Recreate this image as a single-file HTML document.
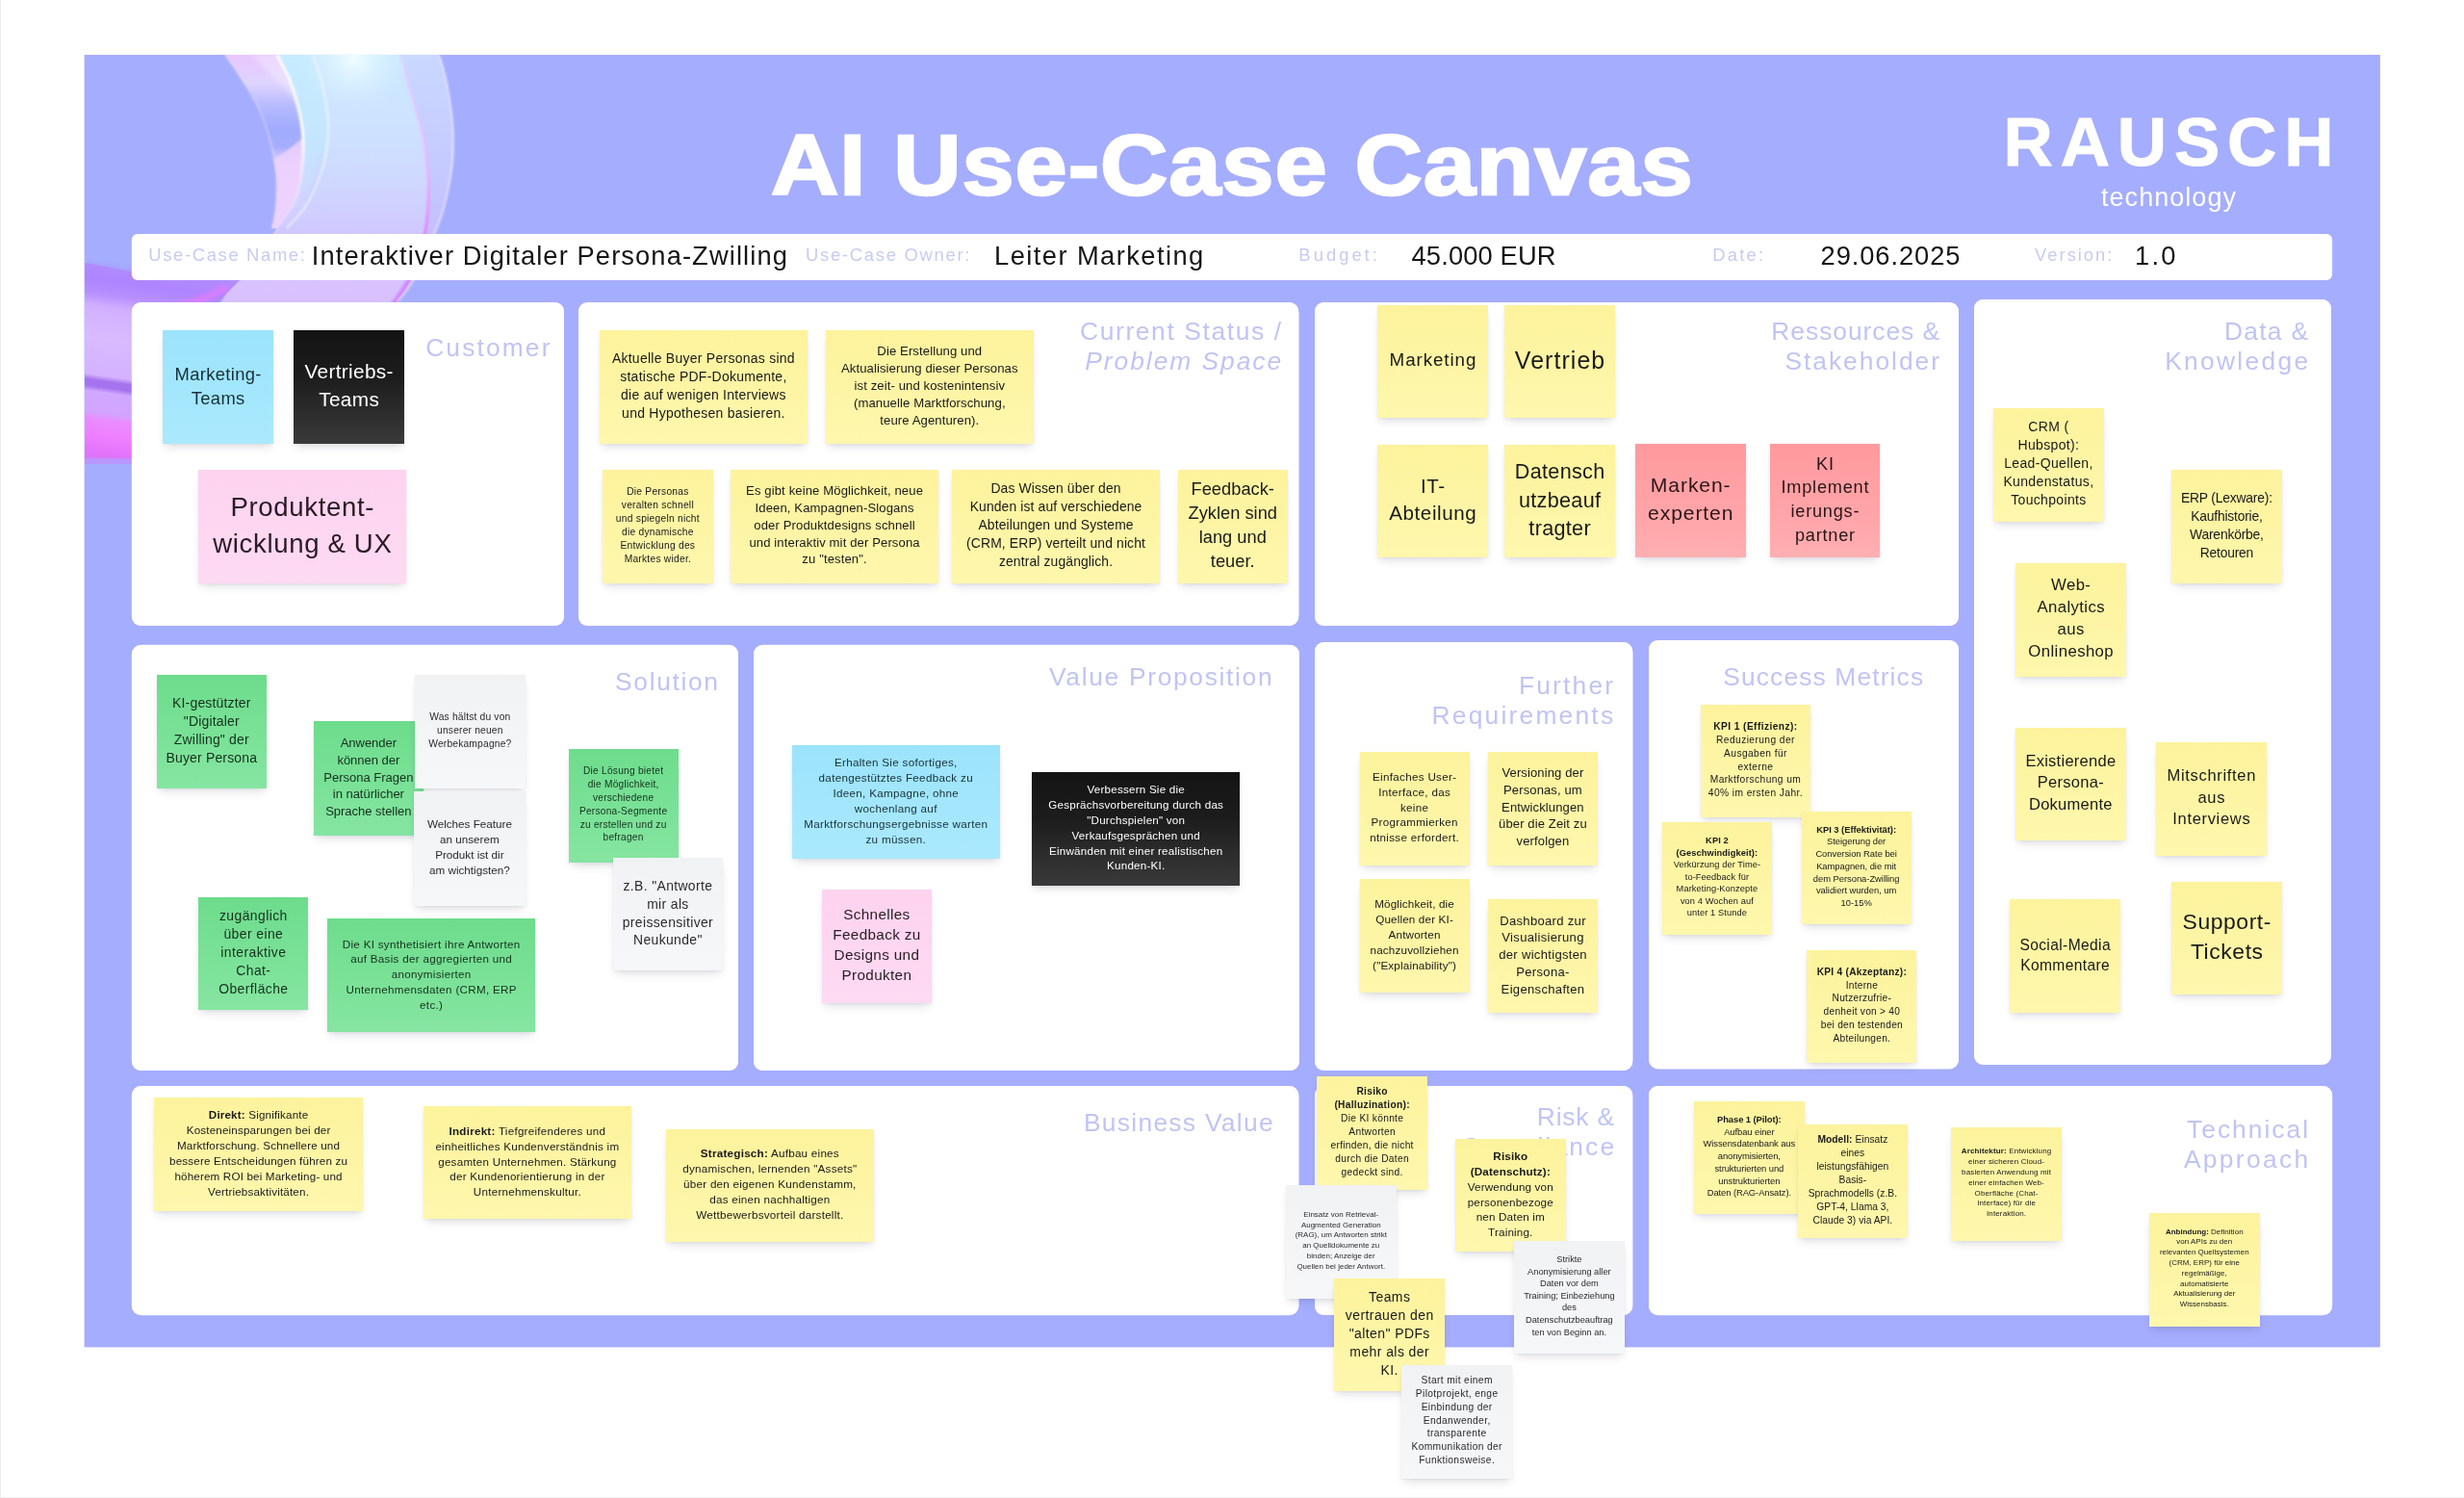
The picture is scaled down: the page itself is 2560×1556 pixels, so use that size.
<!DOCTYPE html>
<html><head><meta charset="utf-8"><title>AI Use-Case Canvas</title>
<style>
html,body{margin:0;padding:0;background:#fff}
body{width:2560px;height:1556px;position:relative;overflow:hidden;font-family:"Liberation Sans", sans-serif;}
.abs{position:absolute}
.panel{position:absolute;background:#fff;border-radius:9px}
.st{position:absolute;display:flex;align-items:center;justify-content:center;text-align:center;white-space:nowrap;box-shadow:0 6px 9px -3px rgba(40,40,70,.15),0 1px 3px rgba(40,40,70,.06);}
.st b{font-weight:700}
.lbl{position:absolute;white-space:nowrap;color:#c0c4f3;}
.lbl i{font-style:italic}
.il{position:absolute;white-space:nowrap;color:#c3c6ee}
.iv{position:absolute;white-space:nowrap;color:#141414}
</style></head><body>
<div style="position:absolute;left:0;top:0;width:2560px;height:1556px;will-change:transform">
<div class="abs" style="left:0;top:0;width:1px;height:1556px;background:#ececec"></div>
<div class="abs" style="left:0;top:1555px;width:2560px;height:1px;background:#f1f1f1"></div>
<svg class="abs" style="left:0;top:0" width="2560" height="1556" viewBox="0 0 2560 1556"><rect x="87.6" y="56.9" width="2385.3" height="1342.5" fill="#a5adfe"/></svg>

<svg class="abs" style="left:88px;top:57px" width="460" height="440" viewBox="88 57 460 440">
<defs>
<clipPath id="fc"><rect x="88" y="57" width="460" height="440"/></clipPath>
<linearGradient id="gMain" x1="0" y1="57" x2="0" y2="340" gradientUnits="userSpaceOnUse">
 <stop offset="0" stop-color="#cbe9ff"/><stop offset=".25" stop-color="#cde3ff"/><stop offset=".45" stop-color="#cfd9ff"/><stop offset=".64" stop-color="#d0c9ff"/><stop offset=".85" stop-color="#d9c2ff"/><stop offset="1" stop-color="#d6bcff"/>
</linearGradient>
<linearGradient id="gBand" x1="0" y1="57" x2="0" y2="240" gradientUnits="userSpaceOnUse">
 <stop offset="0" stop-color="#e9c6ff"/><stop offset=".16" stop-color="#dfd4ff"/><stop offset=".30" stop-color="#b4b8ff"/><stop offset=".42" stop-color="#a0acfd"/><stop offset=".52" stop-color="#a6adff"/><stop offset=".62" stop-color="#e6cfff"/><stop offset="1" stop-color="#efd3ff"/>
</linearGradient>
<linearGradient id="gStrip" x1="0" y1="57" x2="0" y2="320" gradientUnits="userSpaceOnUse">
 <stop offset="0" stop-color="#c9d6ff"/><stop offset=".5" stop-color="#c3c6ff"/><stop offset="1" stop-color="#c6b0ff"/>
</linearGradient>
<linearGradient id="gMag" x1="0" y1="57" x2="0" y2="320" gradientUnits="userSpaceOnUse">
 <stop offset="0" stop-color="#f0d0ff" stop-opacity=".5"/><stop offset=".45" stop-color="#f0b0ff" stop-opacity=".9"/><stop offset=".75" stop-color="#e070ff"/><stop offset="1" stop-color="#e070ff"/>
</linearGradient>
<linearGradient id="gBlob" x1="128" y1="268" x2="98" y2="480" gradientUnits="userSpaceOnUse">
 <stop offset="0" stop-color="#b690ff"/><stop offset=".12" stop-color="#ae84ff"/><stop offset=".19" stop-color="#b890ff"/><stop offset=".25" stop-color="#d2b0ff"/><stop offset=".40" stop-color="#d9baff"/><stop offset=".58" stop-color="#d4b2ff"/><stop offset=".605" stop-color="#a673ee"/><stop offset=".635" stop-color="#a673ee"/><stop offset=".66" stop-color="#cfa8ff"/><stop offset=".76" stop-color="#d3a4ff"/><stop offset=".79" stop-color="#ea8cff"/><stop offset=".87" stop-color="#ee80ff"/><stop offset=".96" stop-color="#e172fa"/><stop offset="1" stop-color="#d77af8"/>
</linearGradient>
<linearGradient id="gRib" x1="0" y1="57" x2="0" y2="240" gradientUnits="userSpaceOnUse">
 <stop offset="0" stop-color="#c6ecff" stop-opacity=".9"/><stop offset=".55" stop-color="#c3e6ff" stop-opacity=".8"/><stop offset=".8" stop-color="#cfd8ff" stop-opacity=".55"/><stop offset="1" stop-color="#dccfff" stop-opacity=".3"/>
</linearGradient>
<linearGradient id="gWl" x1="0" y1="57" x2="0" y2="240" gradientUnits="userSpaceOnUse">
 <stop offset="0" stop-color="#ffffff" stop-opacity=".95"/><stop offset=".5" stop-color="#ffffff" stop-opacity=".95"/><stop offset=".7" stop-color="#f4ecff" stop-opacity=".7"/><stop offset="1" stop-color="#e6d6ff" stop-opacity=".5"/>
</linearGradient>
<radialGradient id="gHi" cx="368" cy="60" r="60" gradientUnits="userSpaceOnUse">
 <stop offset="0" stop-color="#f4ffff" stop-opacity=".95"/><stop offset=".4" stop-color="#e6faff" stop-opacity=".5"/><stop offset="1" stop-color="#d0ecff" stop-opacity="0"/>
</radialGradient>
<filter id="b1" x="-10%" y="-10%" width="120%" height="120%"><feGaussianBlur stdDeviation="1.2"/></filter>
<filter id="b2" x="-10%" y="-10%" width="120%" height="120%"><feGaussianBlur stdDeviation="2.5"/></filter>
<filter id="b4" x="-20%" y="-20%" width="140%" height="140%"><feGaussianBlur stdDeviation="5"/></filter>
</defs>
<g clip-path="url(#fc)">
 <!-- main glass body -->
 <path d="M287.5 57 L456 57 C462 72 467 97 470 125 C472 146 471 168 467.5 187.5 C464 207 459 225 453.75 237 C447 255 438 275 429.5 291 C424 300 418 308 413 313 L395 340 L215 340 L238 300 C255 280 272 258 287.5 237 C298 224 304 214 307.5 206 C311 196 313 185 313.75 175 C315 165 315.5 154 315 143.75 C314 133 312.5 122 310 112.5 C307.5 102 304 91 300 81 Z" fill="url(#gMain)"/>
 <!-- cyan-ish inner ribbon between the two white lines -->
 <path d="M287.5 57 L325 57 C331 72 335 87 337.5 100 C340 113 341.5 125 341 137.5 C340.5 150 339 163 335 175 C331 188 326 200 318.75 212.5 C312 222 305 230 297.5 237 L287.5 237 C298 224 304 214 307.5 206 C311 196 313 185 313.75 175 C315 165 315.5 154 315 143.75 C314 133 312.5 122 310 112.5 C307.5 102 304 91 300 81 Z" fill="url(#gRib)" filter="url(#b1)"/>
 <!-- right strip -->
 <path d="M415 57 L456 57 C462 72 467 97 470 125 C472 146 471 168 467.5 187.5 C464 207 459 225 453.75 237 C447 255 438 275 429.5 291 C424 300 418 308 413 313 L400 320 C418 300 432 272 442.5 237 C445 220 445.5 204 445 187.5 C444 175 443 162 441.25 150 C439 137 435 124 431.25 112.5 C426 95 421 76 415 57 Z" fill="url(#gStrip)" opacity=".9"/>
 <!-- left band -->
 <path d="M233.75 57 L287.5 57 C292 65 296 73 300 81 C304 91 307.5 102 310 112.5 C312.5 122 314 133 315 143.75 C315.5 154 315 165 313.75 175 C313 185 311 196 307.5 206 C304 214 298 224 287.5 237 L282.5 237 C284 231 285.5 225 286.25 218.75 C287.5 208 288 198 287.5 187.5 C286.5 175 284.5 162 281.25 150 C278 137 274 124 268.75 112.5 C263.5 101.5 257 91 250 81 C245 73 239.5 65 233.75 57 Z" fill="url(#gBand)"/>
 <path d="M284 165 C294 160 304 152 315 143 C315.5 154 315 165 313.75 175 C313 185 311 196 307.5 206 C304 214 298 224 287.5 237 L282.5 237 C284 231 285.5 225 286.25 218.75 C287.5 208 288 198 287.5 187.5 C287 180 286 172 284 165 Z" fill="#eed2ff" opacity=".85" filter="url(#b1)"/>
 <!-- soft pale highlight inside band top -->
 <path d="M262 57 L287.5 57 C296 73 304 91 308 106 C300 96 290 84 280 76 Z" fill="#f3eaff" opacity=".55" filter="url(#b2)"/>
 <!-- top glow -->
 <rect x="300" y="57" width="140" height="70" fill="url(#gHi)"/>
 <!-- white inner line -->
 <path d="M287.5 57 C292 65 296 73 300 81 C304 91 307.5 102 310 112.5 C312.5 122 314 133 315 143.75 C315.5 154 315 165 313.75 175 C313 185 311 196 307.5 206 C304 214 298 224 287.5 237" fill="none" stroke="url(#gWl)" stroke-width="3" filter="url(#b1)"/>
 <!-- second faint line -->
 <path d="M325 57 C331 72 335 87 337.5 100 C340 113 341.5 125 341 137.5 C340.5 150 339 163 335 175 C331 188 326 200 318.75 212.5 C312 222 305 230 297.5 237" fill="none" stroke="#eef4ff" stroke-width="2.4" opacity=".8" filter="url(#b1)"/>
 <path d="M333 160 C333 172 331 184 325 197 C319 210 308 225 292 240" fill="none" stroke="#c3b2ff" stroke-width="1.4" opacity=".45" filter="url(#b2)"/>
 <!-- magenta line -->
 <path d="M415 57 C421 76 426 95 431.25 112.5 C435 124 439 137 441.25 150 C443 162 444 175 445 187.5 C445.5 204 445 220 442.5 237 C438 255 432 275 425 291 C420 300 415 308 408 316" fill="none" stroke="url(#gMag)" stroke-width="2.6" filter="url(#b1)"/>
 <!-- outer right edge highlight -->
 <path d="M456 57 C462 72 467 97 470 125 C472 146 471 168 467.5 187.5 C464 207 459 225 453.75 237 C447 255 438 275 429.5 291 C424 300 418 308 413 313" fill="none" stroke="#e4e0ff" stroke-width="2" opacity=".85" filter="url(#b1)"/>
 <!-- left edge faint highlight -->
 <path d="M233.75 57 C245 73 257 91 268.75 112.5 C278 132 286 160 287.5 187.5 C288 205 286 225 282.5 237" fill="none" stroke="#d6d2ff" stroke-width="1.6" opacity=".8" filter="url(#b1)"/>
 <!-- lower-left purple blob -->
 <path d="M88 273 C105 276 122 279.5 140 282.5 C158 285 175 287 192 288.5 C212 290 232 290.5 250 290 L236 304 L222 320 L205 345 L137 345 L137 482 L88 482 Z" fill="url(#gBlob)"/>
 <!-- magenta edge of the blob along the strip -->
 <path d="M168 322 C192 318 216 310 236 298" fill="none" stroke="#e67cff" stroke-width="7" opacity=".8" filter="url(#b2)"/>
 <path d="M88 273 C105 276 122 279.5 140 282.5 C158 285 175 287 192 288.5 C212 290 232 290.5 250 290" fill="none" stroke="#a98aff" stroke-width="3" opacity=".6" filter="url(#b2)"/>
 <!-- soft fade at bottom of blob -->
 <rect x="88" y="476" width="49" height="8" fill="#a5adfe" opacity=".6" filter="url(#b1)"/>
</g>
</svg>
<svg class="abs" style="left:0;top:0" width="2560" height="1556" viewBox="0 0 2560 1556"><rect x="136.8" y="243" width="2286.2999999999997" height="47.89999999999998" rx="6" fill="#fff"/><rect x="136.8" y="314.4" width="448.99999999999994" height="335.4" rx="10" fill="#fff"/><rect x="601.1" y="314.4" width="748.4" height="335.4" rx="10" fill="#fff"/><rect x="1366.1" y="314.4" width="668.9000000000001" height="335.4" rx="10" fill="#fff"/><rect x="2051" y="311" width="370.5" height="794.5" rx="10" fill="#fff"/><rect x="136.8" y="669.8" width="630.0" height="442.10000000000014" rx="10" fill="#fff"/><rect x="783" y="669.8" width="566.5" height="442.10000000000014" rx="10" fill="#fff"/><rect x="1366.1" y="667" width="330.4000000000001" height="444.9000000000001" rx="10" fill="#fff"/><rect x="1713.2" y="665.2" width="321.79999999999995" height="445.29999999999995" rx="10" fill="#fff"/><rect x="136.8" y="1128" width="1212.7" height="238.20000000000005" rx="10" fill="#fff"/><rect x="1366.2" y="1128" width="330.20000000000005" height="238" rx="10" fill="#fff"/><rect x="1713.2" y="1128" width="709.9999999999998" height="238.20000000000005" rx="10" fill="#fff"/></svg>
<div class="abs" style="left:800.70px;top:128.08px;font-size:88.5px;font-weight:700;line-height:1;white-space:nowrap;color:#ffffff;letter-spacing:0.860px;transform:scaleX(1.1);transform-origin:0 0;-webkit-text-stroke:2.4px #ffffff;paint-order:stroke fill;">AI Use-Case Canvas</div>
<div class="abs" style="left:2081.50px;top:112.40px;font-size:71.0px;font-weight:700;line-height:1;white-space:nowrap;color:#ffffff;letter-spacing:7.853px;-webkit-text-stroke:1px #ffffff;paint-order:stroke fill;">RAUSCH</div>
<div class="abs" style="left:2183.00px;top:192.14px;font-size:27px;font-weight:400;line-height:1;white-space:nowrap;color:#ffffff;letter-spacing:1.043px;">technology</div>
<div class="abs" style="left:154.32px;top:256.42px;font-size:18.4px;font-weight:400;line-height:1;white-space:nowrap;color:#c8cbf1;letter-spacing:1.655px;">Use-Case Name:</div>
<div class="abs" style="left:837.12px;top:256.42px;font-size:18.4px;font-weight:400;line-height:1;white-space:nowrap;color:#c8cbf1;letter-spacing:1.722px;">Use-Case Owner:</div>
<div class="abs" style="left:1349.37px;top:256.42px;font-size:18.4px;font-weight:400;line-height:1;white-space:nowrap;color:#c8cbf1;letter-spacing:3.017px;">Budget:</div>
<div class="abs" style="left:1779.37px;top:256.42px;font-size:18.4px;font-weight:400;line-height:1;white-space:nowrap;color:#c8cbf1;letter-spacing:2.198px;">Date:</div>
<div class="abs" style="left:2114.12px;top:256.42px;font-size:18.4px;font-weight:400;line-height:1;white-space:nowrap;color:#c8cbf1;letter-spacing:1.972px;">Version:</div>
<div class="abs" style="left:323.84px;top:251.89px;font-size:27.3px;font-weight:400;line-height:1;white-space:nowrap;color:#151515;letter-spacing:1.104px;">Interaktiver Digitaler Persona-Zwilling</div>
<div class="abs" style="left:1033.04px;top:251.89px;font-size:27.3px;font-weight:400;line-height:1;white-space:nowrap;color:#151515;letter-spacing:1.433px;">Leiter Marketing</div>
<div class="abs" style="left:1466.54px;top:251.89px;font-size:27.3px;font-weight:400;line-height:1;white-space:nowrap;color:#151515;letter-spacing:0.133px;">45.000 EUR</div>
<div class="abs" style="left:1891.54px;top:251.89px;font-size:27.3px;font-weight:400;line-height:1;white-space:nowrap;color:#151515;letter-spacing:0.921px;">29.06.2025</div>
<div class="abs" style="left:2218.04px;top:251.89px;font-size:27.3px;font-weight:400;line-height:1;white-space:nowrap;color:#151515;letter-spacing:2.230px;">1.0</div>
<div class="panel" style="left:136.8px;top:314.4px;width:448.99999999999994px;height:335.4px"></div>
<div class="panel" style="left:601.1px;top:314.4px;width:748.4px;height:335.4px"></div>
<div class="panel" style="left:1366.1px;top:314.4px;width:668.9000000000001px;height:335.4px"></div>
<div class="panel" style="left:2051px;top:311px;width:370.5px;height:794.5px"></div>
<div class="panel" style="left:136.8px;top:669.8px;width:630.0px;height:442.10000000000014px"></div>
<div class="panel" style="left:783px;top:669.8px;width:566.5px;height:442.10000000000014px"></div>
<div class="panel" style="left:1366.1px;top:667px;width:330.4000000000001px;height:444.9000000000001px"></div>
<div class="panel" style="left:1713.2px;top:665.2px;width:321.79999999999995px;height:445.29999999999995px"></div>
<div class="panel" style="left:136.8px;top:1128px;width:1212.7px;height:238.20000000000005px"></div>
<div class="panel" style="left:1366.2px;top:1128px;width:330.20000000000005px;height:238px"></div>
<div class="panel" style="left:1713.2px;top:1128px;width:709.9999999999998px;height:238.20000000000005px"></div>
<div class="lbl" style="left:442.13px;top:348.46px;font-size:26.40px;line-height:1;letter-spacing:2.134px">Customer</div>
<div class="lbl" style="left:1122.02px;top:331.46px;font-size:26.40px;line-height:1;letter-spacing:1.619px">Current Status /</div>
<div class="lbl" style="left:1127.34px;top:362.46px;font-size:26.40px;line-height:1;letter-spacing:1.944px"><i>Problem Space</i></div>
<div class="lbl" style="left:1840.35px;top:331.46px;font-size:26.40px;line-height:1;letter-spacing:0.951px">Ressources &amp;</div>
<div class="lbl" style="left:1854.38px;top:362.46px;font-size:26.40px;line-height:1;letter-spacing:1.985px">Stakeholder</div>
<div class="lbl" style="left:2310.98px;top:331.46px;font-size:26.40px;line-height:1;letter-spacing:1.277px">Data &amp;</div>
<div class="lbl" style="left:2249.19px;top:362.46px;font-size:26.40px;line-height:1;letter-spacing:2.287px">Knowledge</div>
<div class="lbl" style="left:639.06px;top:694.96px;font-size:26.40px;line-height:1;letter-spacing:1.659px">Solution</div>
<div class="lbl" style="left:1090.07px;top:690.46px;font-size:26.40px;line-height:1;letter-spacing:1.666px">Value Proposition</div>
<div class="lbl" style="left:1577.88px;top:699.21px;font-size:26.40px;line-height:1;letter-spacing:2.183px">Further</div>
<div class="lbl" style="left:1487.60px;top:730.21px;font-size:26.40px;line-height:1;letter-spacing:2.201px">Requirements</div>
<div class="lbl" style="left:1790.23px;top:690.46px;font-size:26.40px;line-height:1;letter-spacing:1.127px">Success Metrics</div>
<div class="lbl" style="left:1125.94px;top:1152.71px;font-size:26.40px;line-height:1;letter-spacing:1.285px">Business Value</div>
<div class="lbl" style="left:1596.80px;top:1146.96px;font-size:26.40px;line-height:1;letter-spacing:0.799px">Risk &amp;</div>
<div class="lbl" style="left:1518.53px;top:1177.96px;font-size:26.40px;line-height:1;letter-spacing:2.132px">Compliance</div>
<div class="lbl" style="left:2272.00px;top:1159.96px;font-size:26.40px;line-height:1;letter-spacing:2.003px">Technical</div>
<div class="lbl" style="left:2268.91px;top:1190.86px;font-size:26.40px;line-height:1;letter-spacing:2.312px">Approach</div>
<div class="st" style="left:169.00px;top:343.00px;width:115.00px;height:117.50px;background:linear-gradient(180deg,#9be3fc 0%,#a4e7fc 60%,#abe9fd 100%);color:#17303a;font-size:18.38px;line-height:25.00px;letter-spacing:0.350px"><div style="margin-right:-0.350px;transform:translateY(-1.1px)">Marketing-<br>Teams</div></div>
<div class="st" style="left:305.00px;top:343.00px;width:115.00px;height:117.50px;background:linear-gradient(180deg,#141414 0%,#1c1c1c 40%,#3a3a3a 100%);color:#ffffff;font-size:20.81px;line-height:28.30px;letter-spacing:0.330px"><div style="margin-right:-0.330px;transform:translateY(-1.1px)">Vertriebs-<br>Teams</div></div>
<div class="st" style="left:206.00px;top:488.00px;width:216.00px;height:117.50px;background:linear-gradient(180deg,#fdd3ef 0%,#fed7f1 60%,#fedaf3 100%);color:#2a1a26;font-size:27.57px;line-height:37.50px;letter-spacing:0.657px"><div style="margin-right:-0.657px;transform:translateY(-1.1px)">Produktent-<br>wicklung &amp; UX</div></div>
<div class="st" style="left:623.00px;top:343.00px;width:215.50px;height:117.50px;background:linear-gradient(180deg,#fdf39d 0%,#fdf5a5 55%,#fef7ad 100%);color:#1a1a1a;font-size:13.97px;line-height:19.00px;letter-spacing:0.269px"><div style="margin-right:-0.269px;transform:translateY(-1.1px)">Aktuelle Buyer Personas sind<br>statische PDF-Dokumente,<br>die auf wenigen Interviews<br>und Hypothesen basieren.</div></div>
<div class="st" style="left:858.00px;top:343.00px;width:215.50px;height:117.50px;background:linear-gradient(180deg,#fdf39d 0%,#fdf5a5 55%,#fef7ad 100%);color:#1a1a1a;font-size:13.16px;line-height:17.90px;letter-spacing:0.079px"><div style="margin-right:-0.079px;transform:translateY(-1.1px)">Die Erstellung und<br>Aktualisierung dieser Personas<br>ist zeit- und kostenintensiv<br>(manuelle Marktforschung,<br>teure Agenturen).</div></div>
<div class="st" style="left:626.00px;top:488.00px;width:114.50px;height:117.50px;background:linear-gradient(180deg,#fdf39d 0%,#fdf5a5 55%,#fef7ad 100%);color:#1a1a1a;font-size:10.26px;line-height:13.95px;letter-spacing:0.242px"><div style="margin-right:-0.242px;transform:translateY(-1.1px)">Die Personas<br>veralten schnell<br>und spiegeln nicht<br>die dynamische<br>Entwicklung des<br>Marktes wider.</div></div>
<div class="st" style="left:759.00px;top:488.00px;width:216.00px;height:117.50px;background:linear-gradient(180deg,#fdf39d 0%,#fdf5a5 55%,#fef7ad 100%);color:#1a1a1a;font-size:13.09px;line-height:17.80px;letter-spacing:0.119px"><div style="margin-right:-0.119px;transform:translateY(-1.1px)">Es gibt keine Möglichkeit, neue<br>Ideen, Kampagnen-Slogans<br>oder Produktdesigns schnell<br>und interaktiv mit der Persona<br>zu "testen".</div></div>
<div class="st" style="left:989.00px;top:488.00px;width:216.00px;height:117.50px;background:linear-gradient(180deg,#fdf39d 0%,#fdf5a5 55%,#fef7ad 100%);color:#1a1a1a;font-size:13.90px;line-height:18.90px;letter-spacing:0.130px"><div style="margin-right:-0.130px;transform:translateY(-1.1px)">Das Wissen über den<br>Kunden ist auf verschiedene<br>Abteilungen und Systeme<br>(CRM, ERP) verteilt und nicht<br>zentral zugänglich.</div></div>
<div class="st" style="left:1223.50px;top:488.00px;width:114.50px;height:117.50px;background:linear-gradient(180deg,#fdf39d 0%,#fdf5a5 55%,#fef7ad 100%);color:#1a1a1a;font-size:18.24px;line-height:24.80px;letter-spacing:0.031px"><div style="margin-right:-0.031px;transform:translateY(-1.1px)">Feedback-<br>Zyklen sind<br>lang und<br>teuer.</div></div>
<div class="st" style="left:1431.00px;top:316.50px;width:115.00px;height:117.50px;background:linear-gradient(180deg,#fdf39d 0%,#fdf5a5 55%,#fef7ad 100%);color:#1a1a1a;font-size:18.80px;line-height:26.00px;letter-spacing:0.915px"><div style="margin-right:-0.915px;transform:translateY(-1.1px)">Marketing</div></div>
<div class="st" style="left:1563.00px;top:316.50px;width:115.00px;height:117.50px;background:linear-gradient(180deg,#fdf39d 0%,#fdf5a5 55%,#fef7ad 100%);color:#1a1a1a;font-size:24.90px;line-height:34.00px;letter-spacing:1.077px"><div style="margin-right:-1.077px;transform:translateY(-1.1px)">Vertrieb</div></div>
<div class="st" style="left:1431.00px;top:461.50px;width:115.00px;height:117.50px;background:linear-gradient(180deg,#fdf39d 0%,#fdf5a5 55%,#fef7ad 100%);color:#1a1a1a;font-size:20.59px;line-height:28.00px;letter-spacing:0.604px"><div style="margin-right:-0.604px;transform:translateY(-1.1px)">IT-<br>Abteilung</div></div>
<div class="st" style="left:1563.00px;top:461.50px;width:115.00px;height:117.50px;background:linear-gradient(180deg,#fdf39d 0%,#fdf5a5 55%,#fef7ad 100%);color:#1a1a1a;font-size:21.62px;line-height:29.40px;letter-spacing:0.307px"><div style="margin-right:-0.307px;transform:translateY(-1.1px)">Datensch<br>utzbeauf<br>tragter</div></div>
<div class="st" style="left:1699.00px;top:461.00px;width:114.50px;height:118.00px;background:linear-gradient(180deg,#ff9a9e 0%,#ffa4a8 60%,#ffafb2 100%);color:#2a1516;font-size:21.14px;line-height:28.75px;letter-spacing:0.879px"><div style="margin-right:-0.879px;transform:translateY(-1.1px)">Marken-<br>experten</div></div>
<div class="st" style="left:1839.00px;top:461.00px;width:114.00px;height:118.00px;background:linear-gradient(180deg,#ff9a9e 0%,#ffa4a8 60%,#ffafb2 100%);color:#2a1516;font-size:18.16px;line-height:24.70px;letter-spacing:0.776px"><div style="margin-right:-0.776px;transform:translateY(-1.1px)">KI<br>Implement<br>ierungs-<br>partner</div></div>
<div class="st" style="left:2071.00px;top:424.00px;width:114.50px;height:117.50px;background:linear-gradient(180deg,#fdf39d 0%,#fdf5a5 55%,#fef7ad 100%);color:#1a1a1a;font-size:14.01px;line-height:19.06px;letter-spacing:0.345px"><div style="margin-right:-0.345px;transform:translateY(-1.1px)">CRM (<br>Hubspot):<br>Lead-Quellen,<br>Kundenstatus,<br>Touchpoints</div></div>
<div class="st" style="left:2256.00px;top:488.00px;width:115.00px;height:117.50px;background:linear-gradient(180deg,#fdf39d 0%,#fdf5a5 55%,#fef7ad 100%);color:#1a1a1a;font-size:13.90px;line-height:18.90px;letter-spacing:-0.210px"><div style="margin-right:0.210px;transform:translateY(-1.1px)">ERP (Lexware):<br>Kaufhistorie,<br>Warenkörbe,<br>Retouren</div></div>
<div class="st" style="left:2094.00px;top:585.00px;width:115.00px;height:117.50px;background:linear-gradient(180deg,#fdf39d 0%,#fdf5a5 55%,#fef7ad 100%);color:#1a1a1a;font-size:16.76px;line-height:22.80px;letter-spacing:0.400px"><div style="margin-right:-0.400px;transform:translateY(-1.1px)">Web-<br>Analytics<br>aus<br>Onlineshop</div></div>
<div class="st" style="left:2094.00px;top:756.00px;width:114.50px;height:117.00px;background:linear-gradient(180deg,#fdf39d 0%,#fdf5a5 55%,#fef7ad 100%);color:#1a1a1a;font-size:16.54px;line-height:22.50px;letter-spacing:0.251px"><div style="margin-right:-0.251px;transform:translateY(-1.1px)">Existierende<br>Persona-<br>Dokumente</div></div>
<div class="st" style="left:2240.00px;top:771.00px;width:115.00px;height:117.50px;background:linear-gradient(180deg,#fdf39d 0%,#fdf5a5 55%,#fef7ad 100%);color:#1a1a1a;font-size:16.54px;line-height:22.50px;letter-spacing:0.665px"><div style="margin-right:-0.665px;transform:translateY(-1.1px)">Mitschriften<br>aus<br>Interviews</div></div>
<div class="st" style="left:2088.00px;top:934.00px;width:115.00px;height:118.00px;background:linear-gradient(180deg,#fdf39d 0%,#fdf5a5 55%,#fef7ad 100%);color:#1a1a1a;font-size:15.62px;line-height:21.25px;letter-spacing:0.364px"><div style="margin-right:-0.364px;transform:translateY(-1.1px)">Social-Media<br>Kommentare</div></div>
<div class="st" style="left:2256.00px;top:915.50px;width:115.00px;height:117.50px;background:linear-gradient(180deg,#fdf39d 0%,#fdf5a5 55%,#fef7ad 100%);color:#1a1a1a;font-size:22.98px;line-height:31.25px;letter-spacing:0.549px"><div style="margin-right:-0.549px;transform:translateY(-1.1px)">Support-<br>Tickets</div></div>
<div class="st" style="left:162.50px;top:700.75px;width:114.50px;height:117.75px;background:linear-gradient(180deg,#6ddc8c 0%,#7be298 60%,#86e5a2 100%);color:#15301d;font-size:14.01px;line-height:19.05px;letter-spacing:0.165px"><div style="margin-right:-0.165px;transform:translateY(-1.1px)">KI-gestützter<br>"Digitaler<br>Zwilling" der<br>Buyer Persona</div></div>
<div class="st" style="left:325.75px;top:749.25px;width:114.25px;height:118.25px;background:linear-gradient(180deg,#6ddc8c 0%,#7be298 60%,#86e5a2 100%);color:#15301d;font-size:13.05px;line-height:17.75px;letter-spacing:-0.040px"><div style="margin-right:0.040px;transform:translateY(-1.1px)">Anwender<br>können der<br>Persona Fragen<br>in natürlicher<br>Sprache stellen</div></div>
<div class="st" style="left:430.75px;top:700.75px;width:115.00px;height:118.50px;background:linear-gradient(180deg,#f1f2f4 0%,#f4f5f7 60%,#f6f7f9 100%);color:#2b2b2e;font-size:10.29px;line-height:14.00px;letter-spacing:0.173px"><div style="margin-right:-0.173px;transform:translateY(-1.1px)">Was hältst du von<br>unserer neuen<br>Werbekampagne?</div></div>
<div class="st" style="left:430.00px;top:821.75px;width:115.75px;height:118.75px;background:linear-gradient(180deg,#f1f2f4 0%,#f4f5f7 60%,#f6f7f9 100%);color:#2b2b2e;font-size:11.69px;line-height:15.90px;letter-spacing:-0.009px"><div style="margin-right:0.009px;transform:translateY(-1.1px)">Welches Feature<br>an unserem<br>Produkt ist dir<br>am wichtigsten?</div></div>
<div class="st" style="left:590.50px;top:778.00px;width:114.00px;height:117.50px;background:linear-gradient(180deg,#6ddc8c 0%,#7be298 60%,#86e5a2 100%);color:#15301d;font-size:10.15px;line-height:13.80px;letter-spacing:0.258px"><div style="margin-right:-0.258px;transform:translateY(-1.1px)">Die Lösung bietet<br>die Möglichkeit,<br>verschiedene<br>Persona-Segmente<br>zu erstellen und zu<br>befragen</div></div>
<div class="st" style="left:636.50px;top:891.00px;width:114.50px;height:117.00px;background:linear-gradient(180deg,#f1f2f4 0%,#f4f5f7 60%,#f6f7f9 100%);color:#2b2b2e;font-size:13.90px;line-height:18.90px;letter-spacing:0.371px"><div style="margin-right:-0.371px;transform:translateY(-1.1px)">z.B. "Antworte<br>mir als<br>preissensitiver<br>Neukunde"</div></div>
<div class="st" style="left:206.00px;top:931.75px;width:114.25px;height:117.50px;background:linear-gradient(180deg,#6ddc8c 0%,#7be298 60%,#86e5a2 100%);color:#15301d;font-size:13.90px;line-height:18.90px;letter-spacing:0.438px"><div style="margin-right:-0.438px;transform:translateY(-1.1px)">zugänglich<br>über eine<br>interaktive<br>Chat-<br>Oberfläche</div></div>
<div class="st" style="left:340.25px;top:954.25px;width:215.50px;height:117.50px;background:linear-gradient(180deg,#6ddc8c 0%,#7be298 60%,#86e5a2 100%);color:#15301d;font-size:11.62px;line-height:15.80px;letter-spacing:0.300px"><div style="margin-right:-0.300px;transform:translateY(-1.1px)">Die KI synthetisiert ihre Antworten<br>auf Basis der aggregierten und<br>anonymisierten<br>Unternehmensdaten (CRM, ERP<br>etc.)</div></div>
<div class="st" style="left:822.75px;top:774.25px;width:215.75px;height:117.50px;background:linear-gradient(180deg,#9be3fc 0%,#a4e7fc 60%,#abe9fd 100%);color:#17303a;font-size:11.65px;line-height:15.85px;letter-spacing:0.307px"><div style="margin-right:-0.307px;transform:translateY(-1.1px)">Erhalten Sie sofortiges,<br>datengestütztes Feedback zu<br>Ideen, Kampagne, ohne<br>wochenlang auf<br>Marktforschungsergebnisse warten<br>zu müssen.</div></div>
<div class="st" style="left:1072.25px;top:801.75px;width:215.75px;height:118.00px;background:linear-gradient(180deg,#141414 0%,#1c1c1c 40%,#3a3a3a 100%);color:#ffffff;font-size:11.62px;line-height:15.80px;letter-spacing:0.223px"><div style="margin-right:-0.223px;transform:translateY(-1.1px)">Verbessern Sie die<br>Gesprächsvorbereitung durch das<br>"Durchspielen" von<br>Verkaufsgesprächen und<br>Einwänden mit einer realistischen<br>Kunden-KI.</div></div>
<div class="st" style="left:853.50px;top:924.25px;width:114.50px;height:117.50px;background:linear-gradient(180deg,#fdd3ef 0%,#fed7f1 60%,#fedaf3 100%);color:#2a1a26;font-size:15.29px;line-height:20.80px;letter-spacing:0.345px"><div style="margin-right:-0.345px;transform:translateY(-1.1px)">Schnelles<br>Feedback zu<br>Designs und<br>Produkten</div></div>
<div class="st" style="left:1412.50px;top:780.50px;width:114.00px;height:118.00px;background:linear-gradient(180deg,#fdf39d 0%,#fdf5a5 55%,#fef7ad 100%);color:#1a1a1a;font-size:11.62px;line-height:15.80px;letter-spacing:0.326px"><div style="margin-right:-0.326px;transform:translateY(-1.1px)">Einfaches User-<br>Interface, das<br>keine<br>Programmierken<br>ntnisse erfordert.</div></div>
<div class="st" style="left:1545.75px;top:780.50px;width:114.25px;height:118.00px;background:linear-gradient(180deg,#fdf39d 0%,#fdf5a5 55%,#fef7ad 100%);color:#1a1a1a;font-size:13.05px;line-height:17.75px;letter-spacing:0.113px"><div style="margin-right:-0.113px;transform:translateY(-1.1px)">Versioning der<br>Personas, um<br>Entwicklungen<br>über die Zeit zu<br>verfolgen</div></div>
<div class="st" style="left:1412.50px;top:913.00px;width:114.00px;height:117.50px;background:linear-gradient(180deg,#fdf39d 0%,#fdf5a5 55%,#fef7ad 100%);color:#1a1a1a;font-size:11.69px;line-height:15.90px;letter-spacing:0.146px"><div style="margin-right:-0.146px;transform:translateY(-1.1px)">Möglichkeit, die<br>Quellen der KI-<br>Antworten<br>nachzuvollziehen<br>("Explainability")</div></div>
<div class="st" style="left:1545.75px;top:934.25px;width:114.25px;height:117.50px;background:linear-gradient(180deg,#fdf39d 0%,#fdf5a5 55%,#fef7ad 100%);color:#1a1a1a;font-size:13.09px;line-height:17.80px;letter-spacing:0.301px"><div style="margin-right:-0.301px;transform:translateY(-1.1px)">Dashboard zur<br>Visualisierung<br>der wichtigsten<br>Persona-<br>Eigenschaften</div></div>
<div class="st" style="left:1766.50px;top:731.75px;width:114.50px;height:117.50px;background:linear-gradient(180deg,#fdf39d 0%,#fdf5a5 55%,#fef7ad 100%);color:#1a1a1a;font-size:10.22px;line-height:13.90px;letter-spacing:0.414px"><div style="margin-right:-0.414px;transform:translateY(-1.1px)"><b>KPI 1 (Effizienz):</b><br>Reduzierung der<br>Ausgaben für<br>externe<br>Marktforschung um<br>40% im ersten Jahr.</div></div>
<div class="st" style="left:1727.00px;top:853.50px;width:113.75px;height:117.00px;background:linear-gradient(180deg,#fdf39d 0%,#fdf5a5 55%,#fef7ad 100%);color:#1a1a1a;font-size:9.26px;line-height:12.60px;letter-spacing:0.103px"><div style="margin-right:-0.103px;transform:translateY(-1.1px)"><b>KPI 2</b><br><b>(Geschwindigkeit):</b><br>Verkürzung der Time-<br>to-Feedback für<br>Marketing-Konzepte<br>von 4 Wochen auf<br>unter 1 Stunde</div></div>
<div class="st" style="left:1871.75px;top:842.50px;width:113.75px;height:117.50px;background:linear-gradient(180deg,#fdf39d 0%,#fdf5a5 55%,#fef7ad 100%);color:#1a1a1a;font-size:9.38px;line-height:12.75px;letter-spacing:-0.025px"><div style="margin-right:0.025px;transform:translateY(-1.1px)"><b>KPI 3 (Effektivität):</b><br>Steigerung der<br>Conversion Rate bei<br>Kampagnen, die mit<br>dem Persona-Zwilling<br>validiert wurden, um<br>10-15%</div></div>
<div class="st" style="left:1877.25px;top:986.75px;width:114.00px;height:117.00px;background:linear-gradient(180deg,#fdf39d 0%,#fdf5a5 55%,#fef7ad 100%);color:#1a1a1a;font-size:10.18px;line-height:13.85px;letter-spacing:0.256px"><div style="margin-right:-0.256px;transform:translateY(-1.1px)"><b>KPI 4 (Akzeptanz):</b><br>Interne<br>Nutzerzufrie-<br>denheit von &gt; 40<br>bei den testenden<br>Abteilungen.</div></div>
<div class="st" style="left:160.25px;top:1140.00px;width:216.50px;height:118.00px;background:linear-gradient(180deg,#fdf39d 0%,#fdf5a5 55%,#fef7ad 100%);color:#1a1a1a;font-size:11.65px;line-height:15.85px;letter-spacing:0.159px"><div style="margin-right:-0.159px;transform:translateY(-1.1px)"><b>Direkt:</b> Signifikante<br>Kosteneinsparungen bei der<br>Marktforschung. Schnellere und<br>bessere Entscheidungen führen zu<br>höherem ROI bei Marketing- und<br>Vertriebsaktivitäten.</div></div>
<div class="st" style="left:440.00px;top:1148.75px;width:215.50px;height:117.50px;background:linear-gradient(180deg,#fdf39d 0%,#fdf5a5 55%,#fef7ad 100%);color:#1a1a1a;font-size:11.62px;line-height:15.80px;letter-spacing:0.265px"><div style="margin-right:-0.265px;transform:translateY(-1.1px)"><b>Indirekt:</b> Tiefgreifenderes und<br>einheitliches Kundenverständnis im<br>gesamten Unternehmen. Stärkung<br>der Kundenorientierung in der<br>Unternehmenskultur.</div></div>
<div class="st" style="left:691.75px;top:1172.50px;width:216.00px;height:117.50px;background:linear-gradient(180deg,#fdf39d 0%,#fdf5a5 55%,#fef7ad 100%);color:#1a1a1a;font-size:11.69px;line-height:15.90px;letter-spacing:0.230px"><div style="margin-right:-0.230px;transform:translateY(-1.1px)"><b>Strategisch:</b> Aufbau eines<br>dynamischen, lernenden "Assets"<br>über den eigenen Kundenstamm,<br>das einen nachhaltigen<br>Wettbewerbsvorteil darstellt.</div></div>
<div class="st" style="left:1368.25px;top:1118.00px;width:114.50px;height:118.25px;background:linear-gradient(180deg,#fdf39d 0%,#fdf5a5 55%,#fef7ad 100%);color:#1a1a1a;font-size:10.22px;line-height:13.90px;letter-spacing:0.294px"><div style="margin-right:-0.294px;transform:translateY(-1.1px)"><b>Risiko</b><br><b>(Halluzination):</b><br>Die KI könnte<br>Antworten<br>erfinden, die nicht<br>durch die Daten<br>gedeckt sind.</div></div>
<div class="st" style="left:1335.75px;top:1231.25px;width:115.00px;height:118.00px;background:linear-gradient(180deg,#f1f2f4 0%,#f4f5f7 60%,#f6f7f9 100%);color:#2b2b2e;font-size:7.94px;line-height:10.80px;letter-spacing:0.033px"><div style="margin-right:-0.033px;transform:translateY(-1.1px)">Einsatz von Retrieval-<br>Augmented Generation<br>(RAG), um Antworten strikt<br>an Quelldokumente zu<br>binden; Anzeige der<br>Quellen bei jeder Antwort.</div></div>
<div class="st" style="left:1512.00px;top:1183.00px;width:114.50px;height:117.00px;background:linear-gradient(180deg,#fdf39d 0%,#fdf5a5 55%,#fef7ad 100%);color:#1a1a1a;font-size:11.69px;line-height:15.90px;letter-spacing:0.154px"><div style="margin-right:-0.154px;transform:translateY(-1.1px)"><b>Risiko</b><br><b>(Datenschutz):</b><br>Verwendung von<br>personenbezoge<br>nen Daten im<br>Training.</div></div>
<div class="st" style="left:1573.25px;top:1288.75px;width:114.25px;height:116.75px;background:linear-gradient(180deg,#f1f2f4 0%,#f4f5f7 60%,#f6f7f9 100%);color:#2b2b2e;font-size:9.26px;line-height:12.60px;letter-spacing:0.010px"><div style="margin-right:-0.010px;transform:translateY(-1.1px)">Strikte<br>Anonymisierung aller<br>Daten vor dem<br>Training; Einbeziehung<br>des<br>Datenschutzbeauftrag<br>ten von Beginn an.</div></div>
<div class="st" style="left:1386.25px;top:1327.50px;width:114.50px;height:117.50px;background:linear-gradient(180deg,#fdf39d 0%,#fdf5a5 55%,#fef7ad 100%);color:#1a1a1a;font-size:13.97px;line-height:19.00px;letter-spacing:0.427px"><div style="margin-right:-0.427px;transform:translateY(-1.1px)">Teams<br>vertrauen den<br>"alten" PDFs<br>mehr als der<br>KI.</div></div>
<div class="st" style="left:1456.25px;top:1417.50px;width:114.50px;height:118.00px;background:linear-gradient(180deg,#f1f2f4 0%,#f4f5f7 60%,#f6f7f9 100%);color:#2b2b2e;font-size:10.26px;line-height:13.95px;letter-spacing:0.358px"><div style="margin-right:-0.358px;transform:translateY(-1.1px)">Start mit einem<br>Pilotprojekt, enge<br>Einbindung der<br>Endanwender,<br>transparente<br>Kommunikation der<br>Funktionsweise.</div></div>
<div class="st" style="left:1760.00px;top:1143.75px;width:114.75px;height:117.50px;background:linear-gradient(180deg,#fdf39d 0%,#fdf5a5 55%,#fef7ad 100%);color:#1a1a1a;font-size:9.41px;line-height:12.80px;letter-spacing:-0.083px"><div style="margin-right:0.083px;transform:translateY(-1.1px)"><b>Phase 1 (Pilot):</b><br>Aufbau einer<br>Wissensdatenbank aus<br>anonymisierten,<br>strukturierten und<br>unstrukturierten<br>Daten (RAG-Ansatz).</div></div>
<div class="st" style="left:1867.50px;top:1167.50px;width:114.75px;height:118.25px;background:linear-gradient(180deg,#fdf39d 0%,#fdf5a5 55%,#fef7ad 100%);color:#1a1a1a;font-size:10.29px;line-height:14.00px;letter-spacing:0.026px"><div style="margin-right:-0.026px;transform:translateY(-1.1px)"><b>Modell:</b> Einsatz<br>eines<br>leistungsfähigen<br>Basis-<br>Sprachmodells (z.B.<br>GPT-4, Llama 3,<br>Claude 3) via API.</div></div>
<div class="st" style="left:2027.25px;top:1171.25px;width:114.50px;height:118.00px;background:linear-gradient(180deg,#fdf39d 0%,#fdf5a5 55%,#fef7ad 100%);color:#1a1a1a;font-size:7.94px;line-height:10.80px;letter-spacing:0.168px"><div style="margin-right:-0.168px;transform:translateY(-1.1px)"><b>Architektur:</b> Entwicklung<br>einer sicheren Cloud-<br>basierten Anwendung mit<br>einer einfachen Web-<br>Oberfläche (Chat-<br>Interface) für die<br>Interaktion.</div></div>
<div class="st" style="left:2233.00px;top:1260.00px;width:114.50px;height:117.50px;background:linear-gradient(180deg,#fdf39d 0%,#fdf5a5 55%,#fef7ad 100%);color:#1a1a1a;font-size:7.94px;line-height:10.80px;letter-spacing:0.040px"><div style="margin-right:-0.040px;transform:translateY(-1.1px)"><b>Anbindung:</b> Definition<br>von APIs zu den<br>relevanten Quellsystemen<br>(CRM, ERP) für eine<br>regelmäßige,<br>automatisierte<br>Aktualisierung der<br>Wissensbasis.</div></div>
</div></body></html>
